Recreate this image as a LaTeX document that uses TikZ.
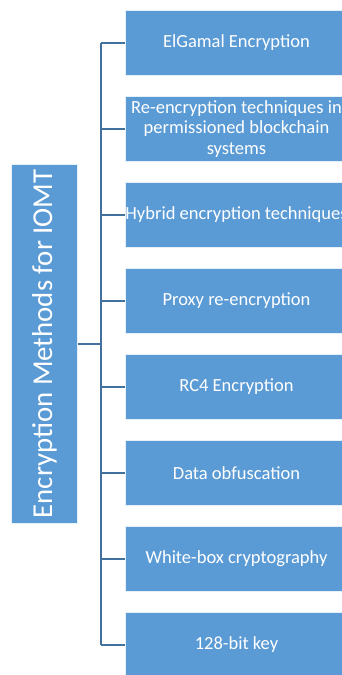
\documentclass[tikz,border=0pt]{standalone}
\usepackage{fontspec}
\setmainfont{Carlito}
\definecolor{boxblue}{HTML}{5B9BD5}
\definecolor{lineblue}{HTML}{41719C}
\begin{document}
\begin{tikzpicture}[x=1pt,y=-1pt,
  leaf/.style={rectangle, fill=boxblue, draw=white!85!boxblue, line width=0.8pt,
    minimum width=223pt, minimum height=65.7pt, inner sep=0pt,
    text=white, align=center, font=\fontsize{18.5}{20.7}\selectfont},
  rootbox/.style={rectangle, fill=boxblue, draw=white!85!boxblue, line width=0.8pt,
    minimum width=65.6pt, minimum height=359pt, inner sep=0pt,
    text=white, font=\fontsize{28.8}{32}\selectfont},
  conn/.style={draw=lineblue, line width=2pt}]
\clip (0,0) rectangle (342,675);
\fill[white] (0,0) rectangle (342,675);
\node[rootbox] (root) at (44.5,343.8) {};
\node[text=white, font=\fontsize{28.8}{32}\selectfont, rotate=90, inner sep=0pt] (roottext) at (root.center) {Encryption Methods for IOMT};
\node[leaf] (b1) at (236.5,42.85) {ElGamal Encryption};
\node[leaf] (b2) at (236.5,128.85) {Re-encryption techniques in\\permissioned blockchain\\systems};
\node[leaf] (b3) at (236.5,214.85) {Hybrid encryption techniques};
\node[leaf] (b4) at (236.5,300.85) {Proxy re-encryption};
\node[leaf] (b5) at (236.5,386.85) {RC4 Encryption};
\node[leaf] (b6) at (236.5,472.85) {Data obfuscation};
\node[leaf] (b7) at (236.5,558.85) {White-box cryptography};
\node[leaf] (b8) at (236.5,644.85) {128-bit key};
\coordinate (sp) at (101,343.8);
\draw[conn] (root.east) -- (sp);
\draw[conn] (sp |- b1.west) -- (sp |- b8.west);
\foreach \i in {1,...,8} {
  \draw[conn] (sp |- b\i.west) -- (b\i.west);
}
\end{tikzpicture}
\end{document}
